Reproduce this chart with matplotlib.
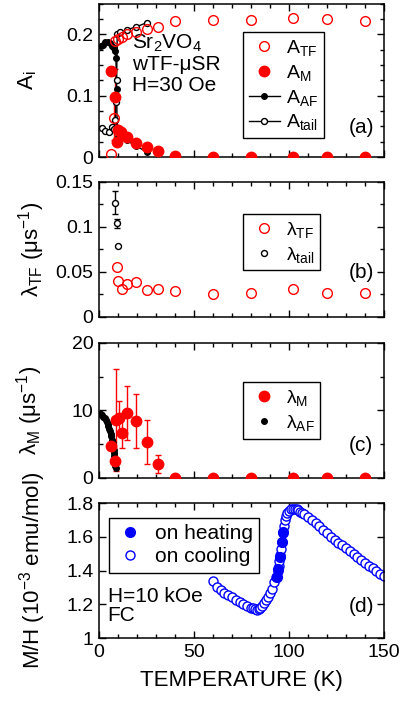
import matplotlib
matplotlib.use('Agg')
import matplotlib.pyplot as plt
from matplotlib.ticker import MultipleLocator, FuncFormatter

plt.rcParams['font.family'] = ['Liberation Sans', 'DejaVu Sans']
plt.rcParams['mathtext.fontset'] = 'custom'
plt.rcParams['mathtext.rm'] = 'Liberation Sans'
plt.rcParams['mathtext.it'] = 'Liberation Sans:italic'
plt.rcParams['mathtext.default'] = 'regular'

RED = '#ff0000'
BLUE = '#0000ff'

# (a) asymmetries
T_A_TF = [6.1, 7.9, 8.6, 10.2, 11.9, 14.6, 19.5, 25.4, 30.9, 40, 60, 80, 102, 120, 140]
A_TF = [0.005, 0.063, 0.189, 0.192, 0.196, 0.200, 0.203, 0.208, 0.212, 0.221, 0.223, 0.223, 0.226, 0.224, 0.222]
A_TF_ERR = [0, 0.035, 0, 0, 0, 0, 0, 0, 0, 0, 0, 0, 0, 0, 0]

T_A_M = [6.4, 8.4, 9.4, 10.2, 11.8, 14.6, 19.5, 25.4, 30.9, 40, 60, 80, 102, 120, 140]
A_M = [0.140, 0.098, 0.025, 0.044, 0.041, 0.033, 0.023, 0.0165, 0.0098, 0.001, 0, 0, 0, 0, 0]
A_M_ERR = [0, 0.045, 0, 0, 0, 0, 0, 0, 0, 0, 0, 0, 0, 0, 0]

T_A_AF = [0.9, 2.0, 3.2, 4.9, 6.0, 6.9, 7.8, 8.4, 8.9, 9.3, 9.6, 10.2, 14.6, 19.5, 25.4]
A_AF = [0.181, 0.183, 0.187, 0.187, 0.185, 0.181, 0.178, 0.172, 0.162, 0.110, 0.040, 0.033, 0.027, 0.018, 0.008]

T_A_TAIL = [1.4, 3.2, 5.4, 6.7, 7.8, 8.6, 9.0, 9.3, 9.6, 11.0, 14.6, 19.5, 25.4]
A_TAIL = [0.047, 0.042, 0.041, 0.049, 0.045, 0.060, 0.090, 0.126, 0.200, 0.203, 0.207, 0.212, 0.219]

# (b) relaxation rates
T_L_TF = [9.6, 10.2, 12.1, 14.6, 19.5, 25.1, 30.9, 40, 60, 80, 102, 120, 140]
L_TF = [0.055, 0.040, 0.031, 0.037, 0.039, 0.030, 0.031, 0.029, 0.025, 0.027, 0.031, 0.027, 0.027]

T_L_TAIL = [8.4, 9.6, 9.8]
L_TAIL = [0.127, 0.104, 0.079]
L_TAIL_ERR = [0.013, 0.005, 0.0]

# (c)
T_L_M = [6.1, 8.4, 8.9, 10.7, 12.3, 14.6, 19.5, 25.1, 30.9, 40, 60, 80, 102, 120, 140]
L_M = [4.67, 2.46, 8.6, 8.87, 6.65, 9.7, 8.37, 5.32, 2.07, 0, 0, 0, 0, 0, 0]
L_M_ERR = [0, 0, 7.6, 2.5, 2.2, 4.0, 4.0, 3.3, 1.3, 0, 0, 0, 0, 0, 0]

T_L_AF = [0.5, 1.1, 1.7, 2.3, 3.0, 3.5, 4.0, 4.5, 4.9, 5.4, 5.8, 6.2, 6.5, 6.9, 7.2, 7.5, 7.7, 7.9, 8.1, 8.3, 8.4, 8.6, 8.8]
L_AF = [9.5, 9.45, 9.36, 9.1, 8.87, 8.6, 8.28, 7.95, 7.63, 7.25, 6.89, 6.5, 6.15, 5.7, 5.17, 4.7, 4.18, 3.7, 3.19, 2.7, 2.2, 1.8, 1.48]

# (d) susceptibility
T_COOL = [60, 62, 64, 66, 68, 70, 72, 74, 76, 78, 80, 81, 82, 83, 84, 85, 86, 87, 88, 89,
          90, 91, 92, 93, 94, 94.5, 95, 95.5, 96, 96.5, 97, 97.5, 98, 98.5, 99, 100, 101,
          102, 103, 104, 105, 106, 107, 108, 110, 112, 114, 116, 118, 120, 122, 124, 126,
          128, 130, 132, 134, 136, 138, 140, 142, 144, 146, 148, 150]
MH_COOL = [1.335, 1.303, 1.284, 1.268, 1.254, 1.241, 1.226, 1.212, 1.200, 1.189, 1.180,
           1.175, 1.170, 1.168, 1.171, 1.180, 1.192, 1.207, 1.224, 1.245, 1.267, 1.293,
           1.330, 1.360, 1.400, 1.425, 1.455, 1.490, 1.530, 1.570, 1.620, 1.665, 1.700,
           1.725, 1.740, 1.755, 1.763, 1.767, 1.766, 1.762, 1.756, 1.749, 1.743, 1.735,
           1.718, 1.700, 1.683, 1.663, 1.642, 1.620, 1.600, 1.582, 1.566, 1.550, 1.533,
           1.515, 1.498, 1.481, 1.463, 1.446, 1.428, 1.413, 1.397, 1.382, 1.370]

T_HEAT = [93.6, 94.4, 95.3, 96.2, 96.9]
MH_HEAT = [1.36, 1.41, 1.48, 1.57, 1.63]


def with_error(t, v, e):
    # keep only the points that carry a visible error bar
    keep = [i for i in range(len(e)) if e[i] > 0]
    return [t[i] for i in keep], [v[i] for i in keep], [e[i] for i in keep]


def style_axis(ax, ylim, major, minor, label_x, show_x=False):
    ax.set_xlim(0, 150)
    ax.set_ylim(*ylim)
    ax.xaxis.set_major_locator(MultipleLocator(50))
    ax.xaxis.set_minor_locator(MultipleLocator(10))
    ax.yaxis.set_major_locator(MultipleLocator(major))
    ax.yaxis.set_minor_locator(MultipleLocator(minor))
    ax.yaxis.set_major_formatter(FuncFormatter(lambda v, p: '%g' % round(v, 3)))
    ax.tick_params(which='both', direction='in', top=True, right=True, width=1,
                   labelsize=14, pad=4)
    ax.tick_params(which='major', length=5)
    ax.tick_params(which='minor', length=3)
    if not show_x:
        ax.tick_params(axis='x', labelbottom=False)
    for s in ax.spines.values():
        s.set_linewidth(1.1)
    ax.yaxis.set_label_coords(label_x, 0.5)


def boxed_legend(ax, handles, labels, anchor, size=14, hl=1.6, tp=0.3, ls=0.25):
    leg = ax.legend(handles, labels, loc='upper left', bbox_to_anchor=anchor,
                    fontsize=size, fancybox=False, edgecolor='black', framealpha=1,
                    handlelength=hl, handletextpad=tp, borderpad=0.3,
                    labelspacing=ls, borderaxespad=0)
    leg.get_frame().set_linewidth(1)
    return leg


fig = plt.figure(figsize=(4.08, 7.05), dpi=100)
ax_a = fig.add_axes([0.2426, 0.7773, 0.6985, 0.2177])
ax_b = fig.add_axes([0.2426, 0.5504, 0.6985, 0.1915])
ax_c = fig.add_axes([0.2426, 0.3220, 0.6985, 0.1915])
ax_d = fig.add_axes([0.2426, 0.0950, 0.6985, 0.1915])

# (a)
ax_a.errorbar(*with_error(T_A_M, A_M, A_M_ERR), fmt='none', ecolor=RED, elinewidth=1, capsize=2)
ax_a.errorbar(*with_error(T_A_TF, A_TF, A_TF_ERR), fmt='none', ecolor=RED, elinewidth=1, capsize=2)
af, = ax_a.plot(T_A_AF, A_AF, '-o', color='black', ms=4, lw=1, zorder=3)
tail, = ax_a.plot(T_A_TAIL, A_TAIL, '-o', color='black', mfc='white', ms=4.3, lw=1, zorder=3)
tf, = ax_a.plot(T_A_TF, A_TF, 'o', color=RED, mfc='none', ms=7, mew=1, zorder=4)
am, = ax_a.plot(T_A_M, A_M, 'o', color=RED, ms=7.5, zorder=4)
style_axis(ax_a, (0, 0.25), 0.1, 0.025, -0.212)
ax_a.set_ylabel(r'A$_{\rm i}$', fontsize=16)
boxed_legend(ax_a, [tf, am, af, tail], [r'A$_{TF}$', r'A$_M$', r'A$_{AF}$', r'A$_{tail}$'],
             (0.505, 0.814))
ax_a.text(0.115, 0.61, 'Sr$_2$VO$_4$\nwTF-μSR\nH=30 Oe', transform=ax_a.transAxes,
          fontsize=15, va='center', ha='left', linespacing=1.1)
ax_a.text(0.92, 0.19, '(a)', transform=ax_a.transAxes, fontsize=15, ha='center', va='center')

# (b)
ax_b.errorbar(*with_error(T_L_TAIL, L_TAIL, L_TAIL_ERR), fmt='none', ecolor='black',
              elinewidth=1, capsize=2)
ltail, = ax_b.plot(T_L_TAIL, L_TAIL, 'o', color='black', mfc='white', ms=4.3, mew=1)
ltf, = ax_b.plot(T_L_TF, L_TF, 'o', color=RED, mfc='none', ms=7, mew=1)
style_axis(ax_b, (0, 0.15), 0.05, 0.025, -0.183)
ax_b.set_ylabel('λ$_{TF}$ (μs$^{-1}$)', fontsize=16)
boxed_legend(ax_b, [ltf, ltail], ['λ$_{TF}$', 'λ$_{tail}$'], (0.505, 0.763))
ax_b.text(0.92, 0.33, '(b)', transform=ax_b.transAxes, fontsize=15, ha='center', va='center')

# (c)
ax_c.errorbar(*with_error(T_L_M, L_M, L_M_ERR), fmt='none', ecolor=RED, elinewidth=1, capsize=2)
lm, = ax_c.plot(T_L_M, L_M, 'o', color=RED, ms=7.5, zorder=4)
laf, = ax_c.plot(T_L_AF, L_AF, 'o', color='black', ms=4, zorder=3)
style_axis(ax_c, (0, 20), 10, 5, -0.19)
ax_c.set_ylabel('λ$_M$ (μs$^{-1}$)', fontsize=16)
boxed_legend(ax_c, [lm, laf], ['λ$_M$', 'λ$_{AF}$'], (0.505, 0.711))
ax_c.text(0.92, 0.24, '(c)', transform=ax_c.transAxes, fontsize=15, ha='center', va='center')

# (d)
cool, = ax_d.plot(T_COOL, MH_COOL, 'o', color=BLUE, mfc='white', ms=6.5, mew=1)
heat, = ax_d.plot(T_HEAT, MH_HEAT, 'o', color=BLUE, ms=7)
style_axis(ax_d, (1.0, 1.8), 0.2, 0.2, -0.18, show_x=True)
ax_d.set_ylabel('M/H (10$^{-3}$ emu/mol)', fontsize=16)
ax_d.set_xlabel('TEMPERATURE (K)', fontsize=16, labelpad=7)
boxed_legend(ax_d, [heat, cool], ['on heating', 'on cooling'], (0.035, 0.889),
             size=15, hl=1.4, tp=0.5, ls=0.2)
ax_d.text(0.03, 0.24, 'H=10 kOe\nFC', transform=ax_d.transAxes, fontsize=15,
          ha='left', va='center', linespacing=1.0)
ax_d.text(0.92, 0.23, '(d)', transform=ax_d.transAxes, fontsize=15, ha='center', va='center')

fig.savefig('out.png', dpi=100)
